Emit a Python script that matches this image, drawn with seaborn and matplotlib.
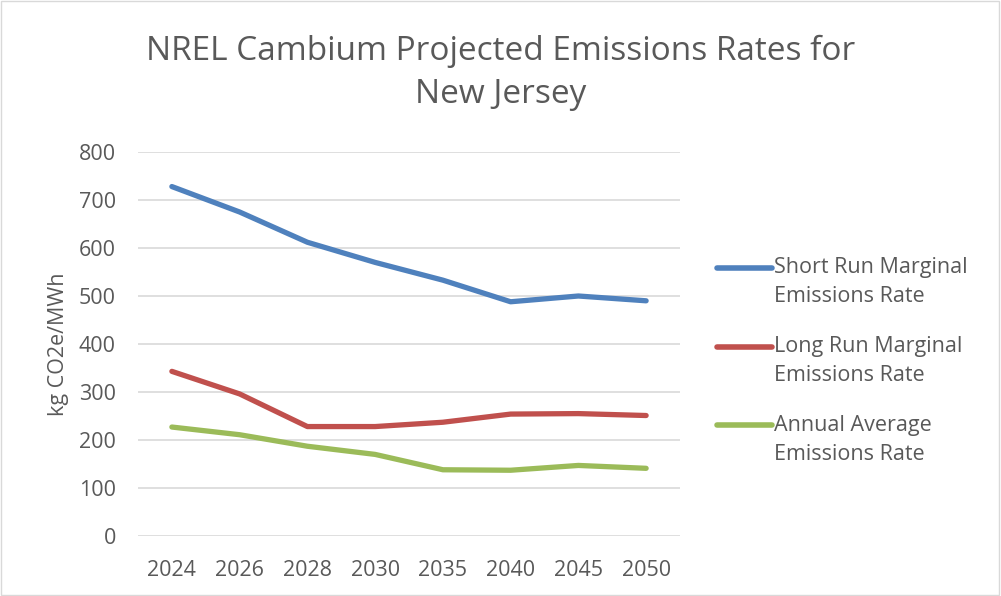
import matplotlib
matplotlib.use("Agg")
import matplotlib.pyplot as plt
import pandas as pd
import seaborn as sns
from matplotlib.lines import Line2D
from matplotlib.patches import Rectangle

# Data
years = ["2024", "2026", "2028", "2030", "2035", "2040", "2045", "2050"]
short_run = [728, 675, 612, 570, 533, 488, 500, 490]
long_run = [343, 296, 228, 228, 237, 254, 255, 251]
annual_avg = [227, 211, 187, 170, 138, 137, 147, 141]

series_names = [
    "Short Run Marginal\nEmissions Rate",
    "Long Run Marginal\nEmissions Rate",
    "Annual Average\nEmissions Rate",
]
colors = ["#4F81BD", "#C0504D", "#9BBB59"]

df = pd.DataFrame({
    "year": years * 3,
    "value": short_run + long_run + annual_avg,
    "series": [s for s in series_names for _ in years],
})

sns.set_theme(style="white")
plt.rcParams["font.family"] = ["Open Sans", "DejaVu Sans"]
text_color = "#595959"
W, H = 1001, 596

fig = plt.figure(figsize=(W / 100, H / 100), dpi=100)
ax = fig.add_axes([138 / W, (H - 536) / H, 542 / W, 384 / H])

sns.lineplot(data=df, x="year", y="value", hue="series", palette=colors,
             linewidth=3.8, sort=False, ax=ax, legend=False,
             solid_capstyle="round")

ax.set_ylim(0, 800)
ax.set_yticks(range(0, 801, 100))
ax.set_xlim(-0.5, len(years) - 0.5)
ax.grid(axis="y", color="#D9D9D9", linewidth=1.2)
ax.grid(axis="x", visible=False)
for sp in ax.spines.values():
    sp.set_visible(False)
ax.tick_params(axis="y", length=0, labelsize=15.5, colors=text_color, pad=16)
ax.tick_params(axis="x", length=0, labelsize=15.5, colors=text_color, pad=17)
ax.set_xlabel("")
ax.set_ylabel("kg CO2e/MWh", fontsize=15.5, color=text_color)
ax.yaxis.set_label_coords(-0.127, 0.5)

# legend, drawn Excel-style: handle next to the first line of each label
for i, (name, col) in enumerate(zip(series_names, colors)):
    yc = 268 + 78.5 * i
    fig.add_artist(Line2D([717 / W, 772 / W], [1 - yc / H, 1 - yc / H],
                          color=col, linewidth=4.0, solid_capstyle="round",
                          transform=fig.transFigure))
    for j, part in enumerate(name.split("\n")):
        fig.text(774 / W, 1 - (yc + 29 * j) / H, part, ha="left", va="center",
                 fontsize=15.5, color=text_color)

fig.text(0.5, 1 - 73 / H, "NREL Cambium Projected Emissions Rates for\nNew Jersey",
         ha="center", va="center", fontsize=24, color=text_color, linespacing=1.38)

fig.patches.append(Rectangle((0.001, 0.001), 0.997, 0.997, transform=fig.transFigure,
                             fill=False, edgecolor="#D9D9D9", linewidth=1.0))

fig.savefig("out.png", dpi=100)
